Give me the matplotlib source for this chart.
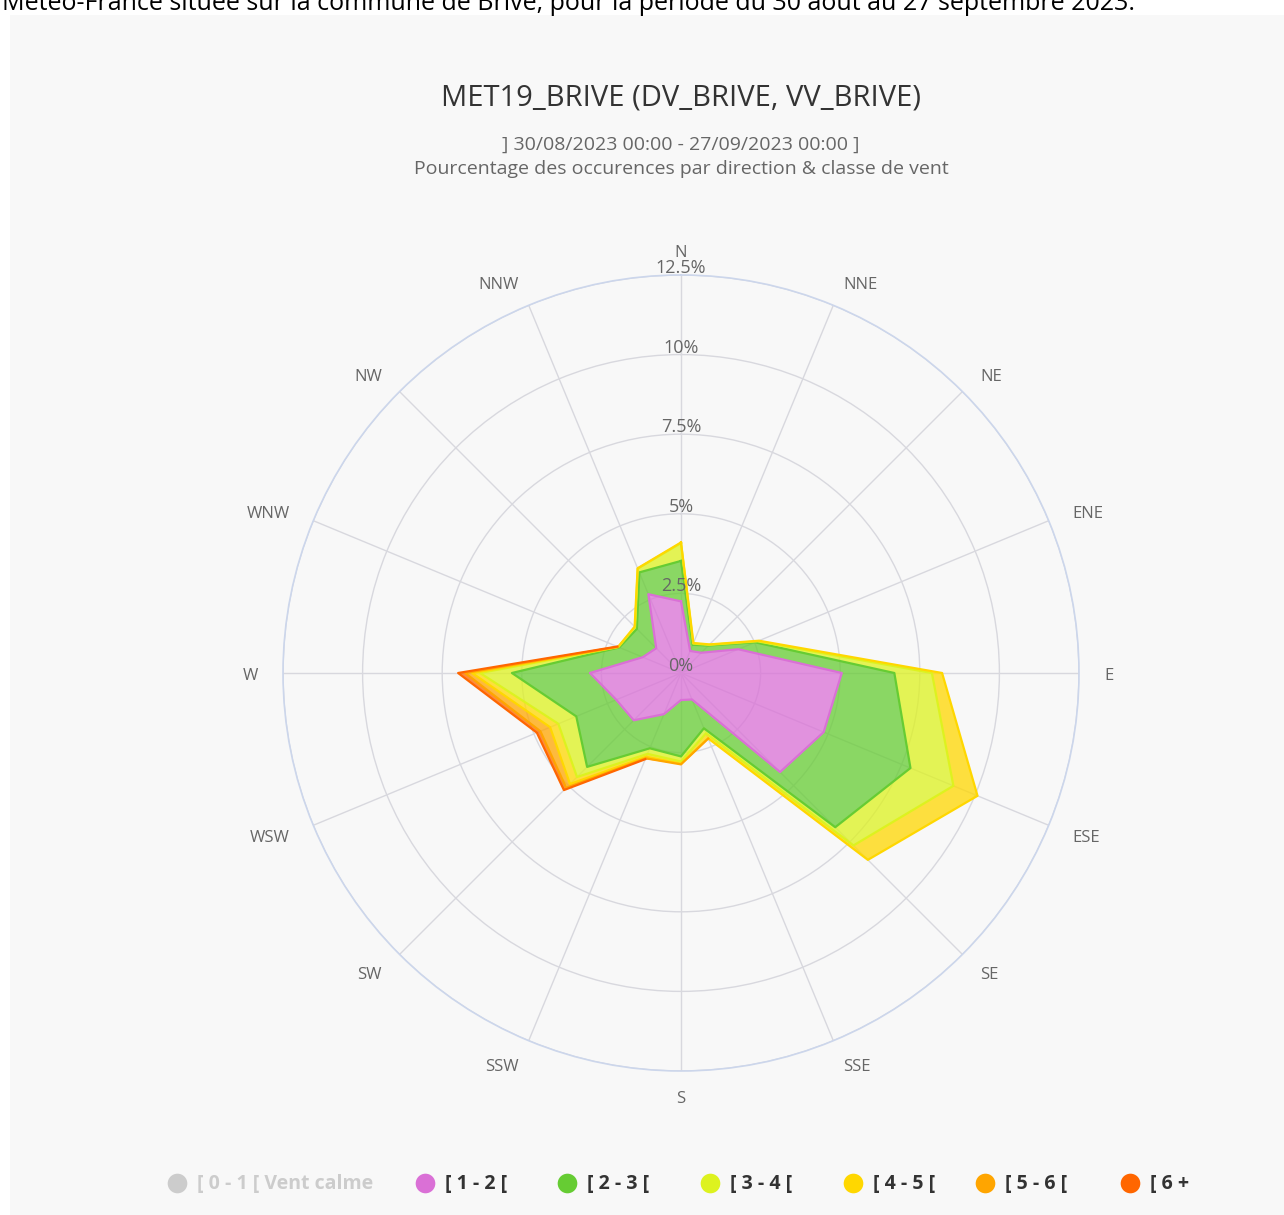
import numpy as np
import matplotlib
matplotlib.use("Agg")
import matplotlib.pyplot as plt
from matplotlib.patches import Rectangle

plt.rcParams["font.family"] = ["Open Sans", "DejaVu Sans"]

directions = ["N", "NNE", "NE", "ENE", "E", "ESE", "SE", "SSE",
              "S", "SSW", "SW", "WSW", "W", "WNW", "NW", "NNW"]

classes = ["[ 0 - 1 [ Vent calme", "[ 1 - 2 [", "[ 2 - 3 [", "[ 3 - 4 [",
           "[ 4 - 5 [", "[ 5 - 6 [", "[ 6 +"]
colors = ["#cccccc", "#da70d6", "#66cc33", "#ddf21f", "#ffd700", "#ffa500", "#ff6600"]

# % of occurences per direction, one list per wind class (the [0-1[ class is switched off)
v_1_2 = [2.25, 0.75, 0.90, 1.95, 5.05, 4.85, 4.40, 0.90, 0.85, 1.40, 2.10, 2.20, 2.86, 1.30, 1.10, 2.68]
v_2_3 = [1.27, 0.21, 0.32, 0.57, 1.65, 2.95, 2.45, 0.98, 1.77, 1.16, 2.07, 1.36, 2.45, 0.80, 0.86, 0.74]
v_3_4 = [0.56, 0.04, 0.03, 0.08, 1.18, 1.46, 0.81, 0.17, 0.16, 0.19, 0.45, 0.61, 1.00, 0.03, 0.08, 0.13]
v_4_5 = [0.02, 0.02, 0.02, 0.05, 0.32, 0.82, 0.64, 0.17, 0.07, 0.10, 0.31, 0.28, 0.25, 0.01, 0.02, 0.01]
v_5_6 = [0.00, 0.00, 0.00, 0.00, 0.00, 0.00, 0.00, 0.01, 0.02, 0.05, 0.17, 0.33, 0.22, 0.01, 0.00, 0.00]
v_6p = [0.00, 0.00, 0.00, 0.00, 0.00, 0.00, 0.00, 0.00, 0.00, 0.03, 0.10, 0.12, 0.22, 0.02, 0.00, 0.00]

r_ticks = [0, 2.5, 5, 7.5, 10, 12.5]
r_labels = ["0%", "2.5%", "5%", "7.5%", "10%", "12.5%"]

W, H = 1284, 1215
fig = plt.figure(figsize=(W / 100, H / 100), dpi=100, facecolor="white")

# background panel + texts, in pixel coords
bg = fig.add_axes([0, 0, 1, 1], zorder=0)
bg.set_xlim(0, W)
bg.set_ylim(H, 0)
bg.axis("off")
bg.add_patch(Rectangle((10, 15), W - 10, H - 15, color="#f8f8f8", lw=0))
bg.text(2, 10, "Météo-France située sur la commune de Brive, pour la période du 30 août au 27 septembre 2023.",
        fontsize=18, color="black", va="baseline", ha="left")
bg.text(681, 98, "MET19_BRIVE (DV_BRIVE, VV_BRIVE)", fontsize=21, color="#333333",
        ha="center", va="center")
bg.text(681, 145, "] 30/08/2023 00:00 - 27/09/2023 00:00 ]", fontsize=14, color="#666666",
        ha="center", va="center")
bg.text(681, 169, "Pourcentage des occurences par direction & classe de vent", fontsize=14,
        color="#666666", ha="center", va="center")

# legend row
leg_x = [177, 425, 567, 710, 853, 985, 1130]
for i, (lab, col) in enumerate(zip(classes, colors)):
    bg.scatter([leg_x[i]], [1183], s=200, color=col, lw=0)
    bg.text(leg_x[i] + 20, 1184, lab, fontsize=14, fontweight="bold",
            color="#cccccc" if i == 0 else "#333333", ha="left", va="center")

# polar chart
cx, cy, rad = 681, 673, 398
ax = fig.add_axes([(cx - rad) / W, (H - cy - rad) / H, 2 * rad / W, 2 * rad / H],
                  projection="polar", zorder=1)
ax.patch.set_alpha(0)
ax.set_theta_zero_location("N")
ax.set_theta_direction(-1)
ax.set_ylim(0, 12.5)

angles = np.arange(len(directions)) * 22.5
ax.set_thetagrids(angles, labels=[""] * len(directions))
ax.set_rgrids(r_ticks[1:], labels=[""] * (len(r_ticks) - 1))
ax.grid(color="#d8d8de", lw=1)
ax.spines["polar"].set_color("#ccd6eb")
ax.spines["polar"].set_linewidth(1.2)

theta = np.deg2rad(angles)
th = np.append(theta, theta[0] + 2 * np.pi)
lower = np.zeros(len(th))
for vals, col in zip([v_1_2, v_2_3, v_3_4, v_4_5, v_5_6, v_6p], colors[1:]):
    v = np.append(vals, vals[0])
    upper = lower + v
    ax.fill(np.concatenate([th, th[::-1]]), np.concatenate([upper, lower[::-1]]),
            color=col, alpha=0.75, lw=0, zorder=2)
    # no line where the class has no occurence
    ax.plot(th, np.where(v > 0, upper, np.nan), color=col, lw=1.6, zorder=3)
    lower = upper

for ang, d in zip(theta, directions):
    s = np.sin(ang)
    ha = "left" if s > 0.01 else ("right" if s < -0.01 else "center")
    ax.annotate(d, xy=(ang, 13.29), xytext=(0, -3), textcoords="offset pixels",
                fontsize=12, color="#666666", ha=ha, va="center", annotation_clip=False)

for r, lab in zip(r_ticks, r_labels):
    ax.annotate(lab, xy=(0, r), xytext=(0, 7), textcoords="offset pixels",
                fontsize=13, color="#666666", ha="center", va="center", zorder=5)

fig.savefig("out.png", dpi=100, facecolor="white")
